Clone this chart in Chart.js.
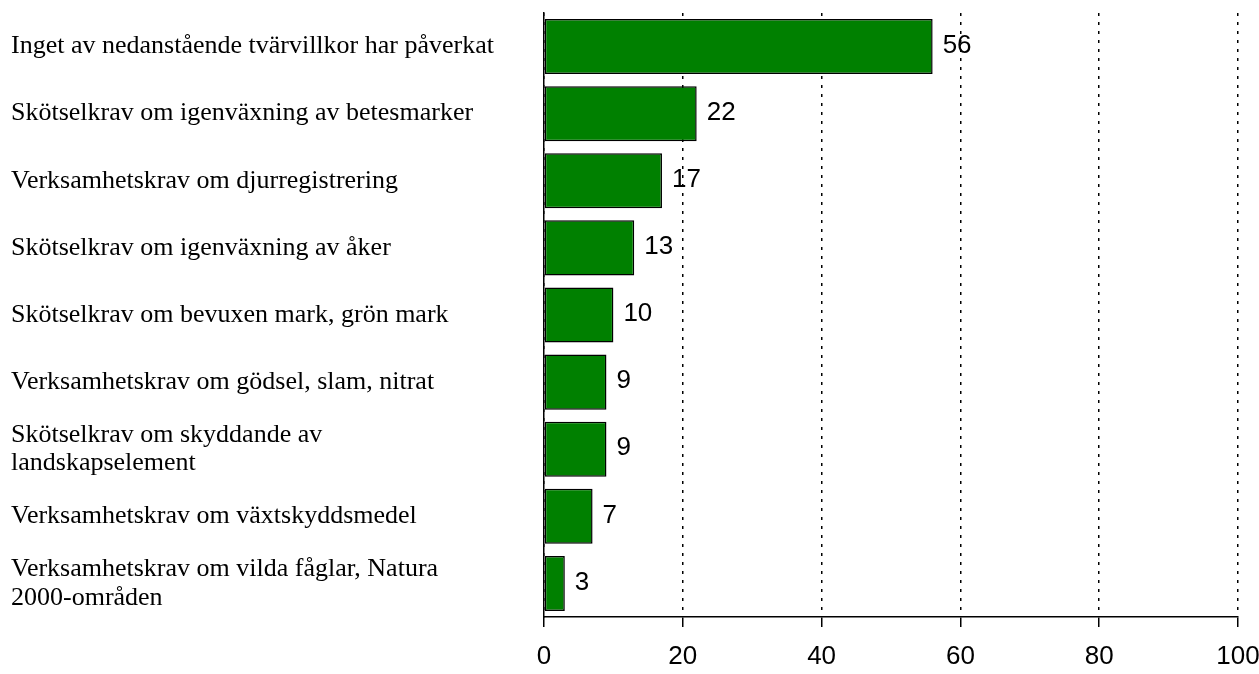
<!DOCTYPE html>
<html>
<head>
<meta charset="utf-8">
<script src="https://cdn.jsdelivr.net/npm/chart.js@4/dist/chart.umd.min.js"></script>
<style>
    html, body { margin: 0; padding: 0; background: #ffffff; }
    #wrap { width: 1259px; height: 674px; }
</style>
</head>
<body>
<div id="wrap"><canvas id="villkorChart" width="1259" height="674"></canvas></div>
<script>
// Categories (multi-line where the original wraps)
const categories = [
    "Inget av nedanstående tvärvillkor har påverkat",
    "Skötselkrav om igenväxning av betesmarker",
    "Verksamhetskrav om djurregistrering",
    "Skötselkrav om igenväxning av åker",
    "Skötselkrav om bevuxen mark, grön mark",
    "Verksamhetskrav om gödsel, slam, nitrat",
    ["Skötselkrav om skyddande av", "landskapselement"],
    "Verksamhetskrav om växtskyddsmedel",
    ["Verksamhetskrav om vilda fåglar, Natura", "2000-områden"]
];

// Percent values
const values = [56, 22, 17, 13, 10, 9, 9, 7, 3];

// x axis ticks
const xTicks = [0, 20, 40, 60, 80, 100];

const sansFont = "'Liberation Sans', Arial, sans-serif";
const serifFont = "'Liberation Serif', 'Times New Roman', serif";

// Value labels at the end of each bar
const valueLabels = {
    id: "valueLabels",
    afterDatasetsDraw(chart) {
        const ctx = chart.ctx;
        const meta = chart.getDatasetMeta(0);
        ctx.save();
        ctx.font = "26px " + sansFont;
        ctx.fillStyle = "#000000";
        ctx.textAlign = "left";
        ctx.textBaseline = "middle";
        meta.data.forEach((bar, i) => {
            ctx.fillText(String(values[i]), bar.x + 10, bar.y - 1);
        });
        ctx.restore();
    }
};

const ctx = document.getElementById("villkorChart").getContext("2d");
new Chart(ctx, {
    type: "bar",
    data: {
        labels: categories,
        datasets: [{
            data: values,
            backgroundColor: "#008000",
            borderColor: "#000000",
            borderWidth: 1.5,
            borderSkipped: false,
            barPercentage: 0.82,
            categoryPercentage: 1
        }]
    },
    options: {
        indexAxis: "y",
        responsive: false,
        animation: false,
        layout: {
            padding: { left: 11, top: 13, right: 21, bottom: 0 }
        },
        plugins: {
            legend: { display: false },
            tooltip: { enabled: false }
        },
        scales: {
            x: {
                min: 0,
                max: 100,
                afterBuildTicks(scale) {
                    scale.ticks = xTicks.map(v => ({ value: v }));
                },
                afterFit(scale) {
                    scale.height = 57;
                    scale.paddingLeft = 0;
                    scale.paddingRight = 0;
                },
                grid: {
                    display: true,
                    color: "#000000",
                    lineWidth: 1.5,
                    drawTicks: true,
                    tickLength: 10,
                    tickColor: "#000000",
                    tickWidth: 1.5
                },
                border: {
                    display: true,
                    color: "#000000",
                    width: 1.5,
                    dash: [3, 6]
                },
                ticks: {
                    color: "#000000",
                    padding: 14,
                    maxRotation: 0,
                    font: { family: sansFont, size: 26 }
                }
            },
            y: {
                afterFit(scale) {
                    scale.width = 533;
                    scale.paddingTop = 0;
                    scale.paddingBottom = 0;
                },
                grid: { display: false },
                border: {
                    display: true,
                    color: "#000000",
                    width: 1.5
                },
                ticks: {
                    color: "#000000",
                    crossAlign: "far",
                    autoSkip: false,
                    font: { family: serifFont, size: 26, lineHeight: 1.1 }
                }
            }
        }
    },
    plugins: [valueLabels]
});
</script>
</body>
</html>
